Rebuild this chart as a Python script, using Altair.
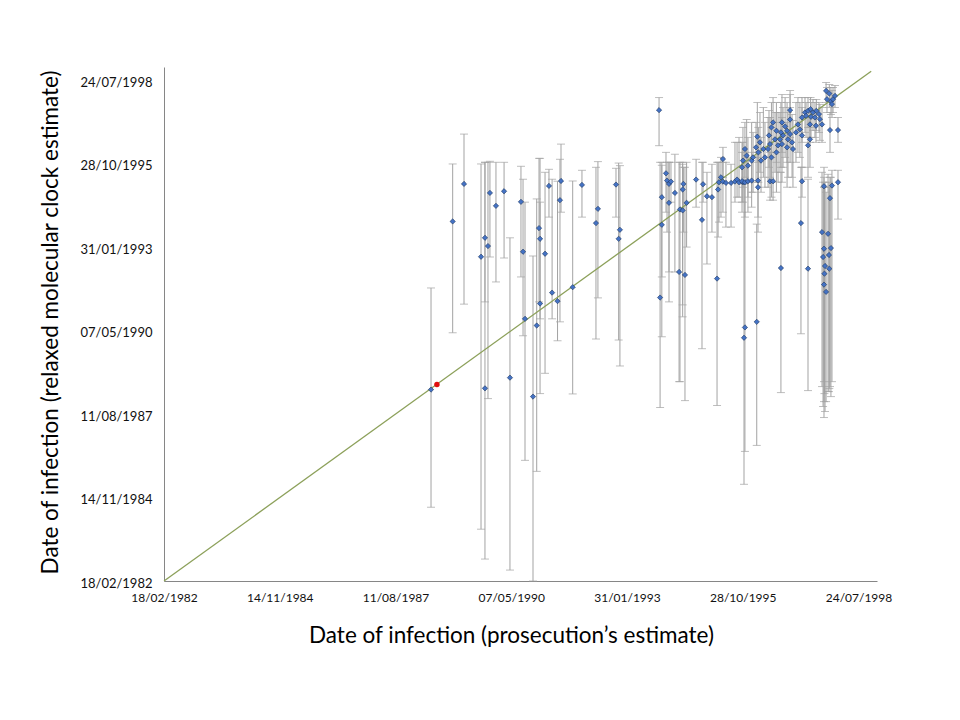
import altair as alt
import pandas as pd

# Axis ticks: Excel date serials and their labels
TICK_VALUES = [30000, 31000, 32000, 33000, 34000, 35000, 36000]
TICK_LABELS = ["18/02/1982", "14/11/1984", "11/08/1987", "07/05/1990",
               "31/01/1993", "28/10/1995", "24/07/1998"]

# Prosecution's estimate (x), relaxed molecular clock estimate (y) with interval
X_VALS = [32307, 32494, 32592, 32739, 32773, 32799, 32773, 32816, 32868, 32938,
          32989, 33084, 33102, 33119, 33188, 33220, 33240, 33249, 33249, 33292,
          33326, 33353, 33400, 33430, 33421, 33531, 33611, 33732, 33749, 33905,
          33928, 33939, 34277, 34286, 34301, 34301, 34337, 34346, 34363, 34380,
          34363, 34414, 34458, 34481, 34481, 34487, 34515, 34450, 34501, 34597,
          34648, 34657, 34691, 34734, 34778, 34787, 34795, 34812, 34829, 34829,
          34855, 34899, 34933, 34951, 34968, 35002, 35019, 35034, 35002, 35045,
          35077, 34994, 35126, 35149, 35115, 35178, 35135, 35192, 35089, 35158,
          35262, 35248, 35291, 35227, 35279, 35236, 35305, 35219, 35291, 35248,
          35339, 35366, 35383, 35409, 35348, 35322, 35391, 35426, 35339, 35434,
          35383, 35330, 35409, 35409, 35477, 35494, 35460, 35512, 35512, 35564,
          35581, 35538, 35564, 35586, 35607, 35636, 35659, 35547, 35590, 35624,
          35667, 35685, 35633, 35581, 35754, 35823, 35720, 35748, 35728, 35762,
          35780, 35797, 35771, 34994, 35019, 35045, 35077, 35132, 35132, 35236,
          35262, 35512, 35702, 35771, 35823, 35754, 35503, 35685, 35737, 35330,
          35564, 35702, 35762, 35694, 35745, 35711, 35748, 35706, 35702, 35720,
          35019, 35011, 35121]
Y_VALS = [32294, 34309, 34759, 33886, 34113, 34014, 32309, 34651, 34496, 34671,
          32437, 34544, 33946, 33142, 32210, 33062, 34229, 34101, 33325, 33922,
          34735, 33456, 33354, 34794, 34564, 33521, 34747, 34289, 34460, 34751,
          34101, 34209, 35643, 33397, 34600, 34269, 34886, 34799, 34759, 34787,
          34532, 34651, 34453, 34441, 34692, 34759, 34532, 33704, 33668, 34811,
          34328, 34755, 34611, 34600, 33624, 34692, 34779, 34838, 35057, 34787,
          34771, 34771, 34787, 34811, 34779, 34779, 35177, 35098, 35038, 34978,
          35038, 34958, 35325, 35257, 35197, 35177, 35137, 35077, 35077, 35038,
          35496, 35436, 35396, 35340, 35293, 35236, 35221, 35177, 35137, 35077,
          35496, 35448, 35396, 35356, 35340, 35293, 35293, 35257, 35236, 35177,
          35197, 35376, 35643, 35531, 35472, 35412, 35376, 35340, 35555, 35221,
          35293, 35615, 35635, 35655, 35615, 35635, 35595, 35575, 35563, 35555,
          35535, 35472, 35456, 35472, 35404, 35404, 35874, 35842, 35774, 35747,
          35774, 35814, 35715, 34791, 34779, 34791, 34799, 34799, 34719, 34791,
          34791, 34791, 34731, 34739, 34779, 34588, 34289, 34181, 34161, 33751,
          33743, 33982, 33990, 33883, 33907, 33775, 33743, 33683, 33552, 33465,
          33039, 32915, 33106]
Y_LOW = [30884, 32975, 33318, 30621, 33345, 32186, 30263, 33883, 33584, 33871,
         30131, 33644, 32939, 31446, 30000, 31314, 33345, 33142, 32246, 32489,
         34361, 33142, 32879, 34420, 33106, 32242, 34361, 32900, 33393, 34361,
         32888, 32577, 35217, 32079, 32927, 33644, 34420, 34181, 33704, 34540,
         33345, 33704, 32389, 33309, 33166, 34181, 34002, 32389, 32162, 34480,
         32784, 34540, 33799, 34181, 32103, 34122, 34301, 34361, 34838, 34420,
         34241, 34241, 34540, 34600, 34600, 34540, 34838, 34779, 34719, 34600,
         34659, 34540, 35018, 34898, 34779, 34838, 34779, 34719, 34659, 34659,
         35137, 35077, 35018, 34958, 34898, 34838, 34779, 34719, 34659, 34600,
         35137, 35077, 35018, 35018, 34958, 34898, 34838, 34838, 34779, 34719,
         34719, 34958, 35316, 35197, 35137, 35077, 35018, 34958, 35257, 34838,
         34958, 35376, 35436, 35436, 35400, 35400, 35376, 35316, 35316, 35316,
         35281, 35257, 35257, 35257, 35137, 35257, 35735, 35675, 35615, 35591,
         35615, 35675, 35555, 34420, 34361, 34420, 34480, 34181, 34361, 34564,
         34564, 34600, 32389, 32389, 34337, 32330, 32963, 32330, 32270, 32258,
         32282, 32150, 32210, 32091, 32270, 32031, 32306, 32246, 31959, 32150,
         31553, 31159, 31625]
Y_HIGH = [33512, 34998, 35356, 34998, 35018, 35018, 35018, 35030, 35018, 35018,
          34113, 34970, 34815, 34540, 33895, 34579, 35065, 35065, 34540, 34898,
          34934, 34815, 34791, 35236, 35054, 34794, 34922, 34958, 35026, 34946,
          35009, 34978, 35794, 35018, 35018, 34982, 35137, 35018, 35018, 35018,
          35018, 35113, 35018, 34994, 35018, 34958, 35018, 35018, 34958, 35054,
          35018, 35018, 34898, 34994, 35018, 35018, 35018, 35077, 35197, 35018,
          35018, 34994, 35257, 35257, 35316, 35257, 35496, 35531, 35436, 35316,
          35496, 35257, 35735, 35615, 35496, 35675, 35436, 35496, 35376, 35316,
          35794, 35735, 35735, 35639, 35615, 35555, 35615, 35555, 35496, 35436,
          35830, 35794, 35735, 35675, 35675, 35615, 35615, 35591, 35555, 35519,
          35496, 35735, 35878, 35830, 35794, 35735, 35735, 35675, 35794, 35555,
          35615, 35794, 35794, 35794, 35770, 35770, 35735, 35735, 35735, 35735,
          35711, 35675, 35639, 35639, 35615, 35555, 35974, 35950, 35914, 35914,
          35914, 35938, 35878, 35137, 35137, 35077, 35137, 35137, 35077, 35137,
          35137, 34958, 34958, 34922, 34922, 34838, 34958, 34898, 34874, 34898,
          34815, 34838, 34838, 34779, 34779, 34779, 34719, 34719, 34719, 34659,
          34779, 34755, 34277]

RED_X = [32358]
RED_Y = [32354]

DIAG = [30000, 36110]

DOMAIN = [30000, 36160]

df = pd.DataFrame({"x": X_VALS, "y": Y_VALS, "lo": Y_LOW, "hi": Y_HIGH})
red = pd.DataFrame({"x": RED_X, "y": RED_Y})
diag = pd.DataFrame({"x": DIAG, "y": DIAG})

label_expr = "[" + ",".join("'%s'" % t for t in TICK_LABELS) + \
    "][round((datum.value - 30000) / 1000)]"

FONT = "Lato"
GRAY = "#A3A3A3"

xscale = alt.Scale(domain=DOMAIN, nice=False, zero=False)
yscale = alt.Scale(domain=DOMAIN, nice=False, zero=False)

xaxis = alt.Axis(values=TICK_VALUES, labelExpr=label_expr, grid=False, ticks=False,
                 domainColor="#868686", domainWidth=1,
                 labelFont=FONT, labelFontSize=12, labelColor="#111111",
                 labelPadding=11, labelOverlap=False, labelFlush=False,
                 title="Date of infection (prosecution\u2019s estimate)",
                 titleFont=FONT, titleFontSize=22.5, titleFontWeight="normal",
                 titleColor="#000000", titleX=347, titleY=43,
                 titleBaseline="top")
yaxis = alt.Axis(values=TICK_VALUES, labelExpr=label_expr, grid=False, ticks=False,
                 domainColor="#868686", domainWidth=1,
                 labelFont=FONT, labelFontSize=13, labelColor="#111111",
                 labelPadding=12, labelOverlap=False, labelFlush=False,
                 labelBaseline="middle", labelOffset=2,
                 title="Date of infection (relaxed molecular clock estimate)",
                 titleFont=FONT, titleFontSize=22.5, titleFontWeight="normal",
                 titleColor="#000000", titleX=-114, titleY=255,
                 titleBaseline="middle", titleAngle=270)


def X(field="x"):
    return alt.X(field + ":Q", scale=xscale, axis=xaxis)


def Y(field="y"):
    return alt.Y(field + ":Q", scale=yscale, axis=yaxis)


bars = alt.Chart(df).mark_rule(color=GRAY, strokeWidth=1).encode(
    x=X(), y=Y("lo"), y2="hi:Q")
caps_lo = alt.Chart(df).mark_tick(orient="horizontal", color=GRAY, size=8,
                                  thickness=1).encode(x=X(), y=Y("lo"))
caps_hi = alt.Chart(df).mark_tick(orient="horizontal", color=GRAY, size=8,
                                  thickness=1).encode(x=X(), y=Y("hi"))
line = alt.Chart(diag).mark_line(color="#8CA05A", strokeWidth=1.3).encode(
    x=X(), y=Y())
pts = alt.Chart(df).mark_point(filled=True, shape="diamond", size=28,
                               color="#4472C4", stroke="#1C355E",
                               strokeWidth=0.6, opacity=1).encode(x=X(), y=Y())
redpt = alt.Chart(red).mark_point(filled=True, shape="circle", size=30,
                                  color="#E01010", opacity=1).encode(x=X(), y=Y())

chart = alt.layer(bars, caps_lo, caps_hi, line, pts, redpt).properties(
    width=713, height=514,
    autosize=alt.AutoSizeParams(type="none"),
    padding={"left": 156, "top": 59, "right": 75, "bottom": 131},
    background="white",
).configure_view(stroke=None)

chart.save("out.html", embed_options={"renderer": "svg", "actions": False})
